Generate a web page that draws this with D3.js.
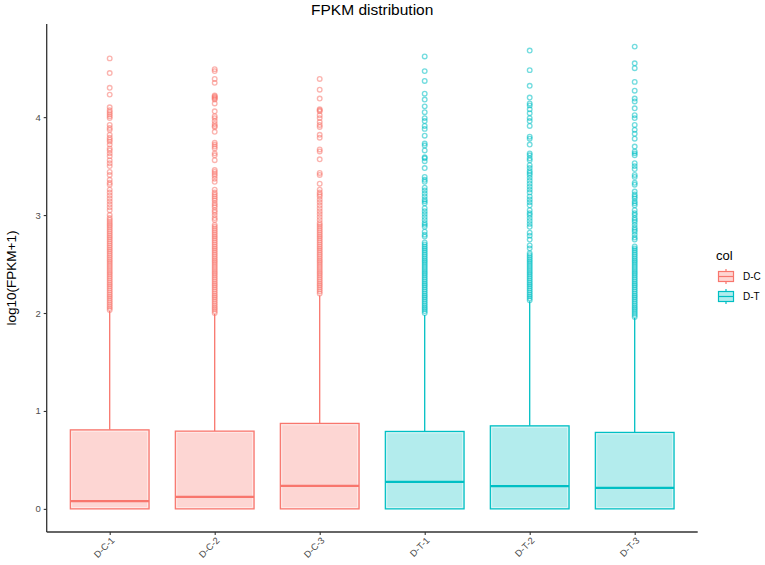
<!DOCTYPE html>
<html>
<head>
<meta charset="utf-8">
<script src="https://cdn.jsdelivr.net/npm/d3@7"></script>
<style>
  html, body { margin: 0; padding: 0; background: #fff; }
  svg { display: block; font-family: "Liberation Sans", Arial, Helvetica, sans-serif; }
</style>
</head>
<body>
<svg id="chart" width="765" height="565"></svg>
<script>
// ---------------- DATA ----------------
const categories = ["D-C-1", "D-C-2", "D-C-3", "D-T-1", "D-T-2", "D-T-3"];
const groups = ["D-C", "D-C", "D-C", "D-T", "D-T", "D-T"];
const legendGroups = ["D-C", "D-T"];
const q1Values = [0, 0, 0, 0, 0, 0];
const medianValues = [0.079, 0.123, 0.235, 0.276, 0.232, 0.215];
const q3Values = [0.807, 0.794, 0.873, 0.791, 0.848, 0.781];
const whiskerLowValues = [0, 0, 0, 0, 0, 0];
const whiskerHighValues = [2.02, 1.99, 2.18, 1.98, 2.12, 1.95];
const yTicks = [0, 1, 2, 3, 4];

const outliersDC1 = [4.60, 4.45, 4.30, 4.23, 4.10, 4.07, 4.05, 4.03, 4.01, 3.99, 3.92, 3.89, 3.87, 3.82, 3.79, 3.77, 3.75, 3.72, 3.68, 3.66, 3.63, 3.60, 3.56, 3.53, 3.50, 3.44, 3.41, 3.36, 3.33, 3.31, 3.26, 3.23, 3.20, 3.17, 3.14, 3.11, 3.08, 3.05, 3.00, 2.97, 2.95,
  2.93, 2.91, 2.89, 2.87, 2.85, 2.83, 2.81, 2.79, 2.77, 2.75, 2.73, 2.71, 2.69, 2.67, 2.65, 2.63, 2.61, 2.59, 2.57, 2.55, 2.53, 2.51, 2.49, 2.47, 2.45, 2.43, 2.41, 2.39, 2.37, 2.35, 2.33, 2.31, 2.29, 2.27, 2.25, 2.23, 2.21, 2.19, 2.17, 2.15, 2.13, 2.11, 2.09, 2.07, 2.05, 2.03];
const outliersDC2 = [4.49, 4.47, 4.39, 4.35, 4.22, 4.21, 4.20, 4.19, 4.18, 4.14, 4.06, 4.01, 3.99, 3.96, 3.93, 3.91, 3.90, 3.85, 3.74, 3.72, 3.70, 3.68, 3.63, 3.61, 3.56, 3.46, 3.44, 3.42, 3.40, 3.37, 3.34, 3.26, 3.23, 3.21, 3.19, 3.17, 3.15, 3.12, 3.10, 3.08, 3.05, 3.03, 3.00, 2.97, 2.95,
  2.90, 2.88, 2.86, 2.84, 2.82, 2.80, 2.78, 2.76, 2.74, 2.72, 2.70, 2.68, 2.66, 2.64, 2.62, 2.60, 2.58, 2.56, 2.54, 2.52, 2.50, 2.48, 2.46, 2.44, 2.42, 2.40, 2.38, 2.36, 2.34, 2.32, 2.30, 2.28, 2.26, 2.24, 2.22, 2.20, 2.18, 2.16, 2.14, 2.12, 2.10, 2.08, 2.06, 2.04, 2.02, 2.00];
const outliersDC3 = [4.39, 4.28, 4.19, 4.08, 4.07, 4.06, 4.02, 3.99, 3.95, 3.92, 3.90, 3.82, 3.79, 3.67, 3.65, 3.57, 3.43, 3.41, 3.32, 3.26, 3.23, 3.21, 3.19, 3.16, 3.13, 3.10, 3.07, 3.04, 3.01, 2.98, 2.95,
  2.92, 2.90, 2.88, 2.86, 2.84, 2.82, 2.80, 2.78, 2.76, 2.74, 2.72, 2.70, 2.68, 2.66, 2.64, 2.62, 2.60, 2.58, 2.56, 2.54, 2.52, 2.50, 2.48, 2.46, 2.44, 2.42, 2.40, 2.38, 2.36, 2.34, 2.32, 2.30, 2.28, 2.26, 2.24, 2.22, 2.20];
const outliersDT1 = [4.62, 4.47, 4.37, 4.24, 4.18, 4.11, 4.05, 3.99, 3.96, 3.91, 3.88, 3.81, 3.73, 3.71, 3.66, 3.59, 3.58, 3.55, 3.48, 3.39, 3.36, 3.34, 3.28, 3.25, 3.22, 3.19, 3.16, 3.14, 3.12, 3.07, 3.04, 3.01, 2.98, 2.95, 2.92, 2.90, 2.88, 2.83, 2.80, 2.78,
  2.72, 2.70, 2.68, 2.66, 2.64, 2.62, 2.60, 2.58, 2.56, 2.54, 2.52, 2.50, 2.48, 2.46, 2.44, 2.42, 2.40, 2.38, 2.36, 2.34, 2.32, 2.30, 2.28, 2.26, 2.24, 2.22, 2.20, 2.18, 2.16, 2.14, 2.12, 2.10, 2.08, 2.06, 2.04, 2.02, 2.00];
const outliersDT2 = [4.68, 4.48, 4.32, 4.20, 4.14, 4.12, 4.08, 4.04, 3.99, 3.96, 3.91, 3.80, 3.78, 3.72, 3.63, 3.61, 3.58, 3.56, 3.51, 3.48, 3.45, 3.43, 3.41, 3.38, 3.35, 3.32, 3.29, 3.26, 3.23, 3.19, 3.16, 3.13, 3.10, 3.05, 3.02, 3.00, 2.97, 2.94, 2.91, 2.88, 2.82, 2.79, 2.75, 2.69, 2.66,
  2.61, 2.59, 2.57, 2.55, 2.53, 2.51, 2.49, 2.47, 2.45, 2.43, 2.41, 2.39, 2.37, 2.35, 2.33, 2.31, 2.29, 2.27, 2.25, 2.23, 2.21, 2.19, 2.17, 2.15, 2.13];
const outliersDT3 = [4.72, 4.55, 4.50, 4.36, 4.27, 4.19, 4.16, 4.09, 4.02, 3.99, 3.92, 3.87, 3.83, 3.78, 3.70, 3.65, 3.63, 3.61, 3.53, 3.50, 3.47, 3.41, 3.39, 3.33, 3.31, 3.24, 3.21, 3.19, 3.17, 3.14, 3.12, 3.10, 3.05, 3.02, 3.00, 2.97, 2.95, 2.93, 2.90, 2.87, 2.85, 2.83, 2.80, 2.77, 2.75,
  2.68, 2.66, 2.64, 2.62, 2.60, 2.58, 2.56, 2.54, 2.52, 2.50, 2.48, 2.46, 2.44, 2.42, 2.40, 2.38, 2.36, 2.34, 2.32, 2.30, 2.28, 2.26, 2.24, 2.22, 2.20, 2.18, 2.16, 2.14, 2.12, 2.10, 2.08, 2.06, 2.04, 2.02, 2.00, 1.98, 1.96];
const outlierLists = [outliersDC1, outliersDC2, outliersDC3, outliersDT1, outliersDT2, outliersDT3];

// ---------------- LAYOUT ----------------
const svg = d3.select("#chart");
const panel = { left: 46.7, right: 697.7, top: 24, bottom: 532 };
const colors = d3.scaleOrdinal().domain(legendGroups).range(["#F8766D", "#00BFC4"]);
const fills = d3.scaleOrdinal().domain(legendGroups).range(["#FDD6D3", "#B3ECED"]);

const x = d3.scalePoint().domain(categories).range([panel.left, panel.right]).padding(0.6);
const step = x.step();
const boxW = step * 0.75;
const y = d3.scaleLinear().domain([-0.236, 4.951]).range([panel.bottom, panel.top]);

const rows = categories.map((c, i) => ({
  cat: c, group: groups[i], q1: q1Values[i], med: medianValues[i], q3: q3Values[i],
  lo: whiskerLowValues[i], hi: whiskerHighValues[i], out: outlierLists[i]
}));

const g = svg.append("g");

// whiskers
g.selectAll("line.whisker").data(rows).join("line")
  .attr("x1", d => x(d.cat)).attr("x2", d => x(d.cat))
  .attr("y1", d => y(d.q3)).attr("y2", d => y(d.hi))
  .attr("stroke", d => colors(d.group)).attr("stroke-width", 1.3);

// outliers
rows.forEach(d => {
  g.append("g").selectAll("circle").data(d.out).join("circle")
    .attr("cx", x(d.cat)).attr("cy", v => y(v)).attr("r", 2.3)
    .attr("fill", "none").attr("stroke", colors(d.group))
    .attr("stroke-width", 1.35).attr("stroke-opacity", 0.55);
});

// boxes
g.selectAll("rect.box").data(rows).join("rect")
  .attr("x", d => x(d.cat) - boxW / 2).attr("width", boxW)
  .attr("y", d => y(d.q3)).attr("height", d => y(d.q1) - y(d.q3))
  .attr("fill", d => fills(d.group)).attr("stroke", d => colors(d.group)).attr("stroke-width", 1.25);
// inner light edge
g.selectAll("rect.inner").data(rows).join("rect")
  .attr("x", d => x(d.cat) - boxW / 2 + 1.5).attr("width", boxW - 3)
  .attr("y", d => y(d.q3) + 1.5).attr("height", d => y(d.q1) - y(d.q3) - 3)
  .attr("fill", "none").attr("stroke", "#fff").attr("stroke-opacity", 0.55).attr("stroke-width", 0.8);

// medians
g.selectAll("line.median").data(rows).join("line")
  .attr("x1", d => x(d.cat) - boxW / 2).attr("x2", d => x(d.cat) + boxW / 2)
  .attr("y1", d => y(d.med)).attr("y2", d => y(d.med))
  .attr("stroke", d => colors(d.group)).attr("stroke-width", 2.4);

// axes
const axisColor = "#333333";
const yAxis = svg.append("g").attr("transform", `translate(${panel.left},0)`)
  .call(d3.axisLeft(y).tickValues(yTicks).tickSize(3).tickPadding(3).tickFormat(d3.format("d")));
yAxis.select(".domain").attr("d", `M0,${panel.top}V${panel.bottom}`).attr("stroke", axisColor).attr("stroke-width", 1.3);
yAxis.selectAll(".tick line").attr("stroke", axisColor).attr("stroke-width", 1.1);
yAxis.selectAll(".tick text").attr("fill", "#4D4D4D").style("font-size", "9.5px").style("font-family", "Liberation Sans, Arial, sans-serif");

const xAxis = svg.append("g").attr("transform", `translate(0,${panel.bottom})`)
  .call(d3.axisBottom(x).tickSize(3).tickPadding(3));
xAxis.select(".domain").attr("d", `M${panel.left},0H${panel.right}`).attr("stroke", axisColor).attr("stroke-width", 1.3);
xAxis.selectAll(".tick line").attr("stroke", axisColor).attr("stroke-width", 1.1);
xAxis.selectAll(".tick text")
  .attr("fill", "#4D4D4D").style("font-size", "9.3px").style("font-family", "Liberation Sans, Arial, sans-serif")
  .attr("text-anchor", "end").attr("dy", null).attr("y", 0)
  .attr("transform", "translate(5,9) rotate(-45)");

// title
svg.append("text").attr("x", (panel.left + panel.right) / 2).attr("y", 15)
  .attr("text-anchor", "middle").style("font-size", "15.5px").attr("fill", "#000").text("FPKM distribution");

// y title
svg.append("text").attr("transform", `translate(16,${(panel.top + panel.bottom) / 2}) rotate(-90)`)
  .attr("text-anchor", "middle").style("font-size", "13.5px").attr("fill", "#000").text("log10(FPKM+1)");

// legend
const lg = svg.append("g").attr("transform", "translate(716,0)");
lg.append("text").attr("x", 0).attr("y", 260).style("font-size", "13px").attr("fill", "#000").text("col");
legendGroups.forEach((grp, i) => {
  const k = lg.append("g").attr("transform", `translate(1,${268 + i * 20})`);
  const kw = 18, kh = 17;
  k.append("line").attr("x1", kw / 2).attr("x2", kw / 2).attr("y1", 1).attr("y2", kh - 1)
    .attr("stroke", colors(grp)).attr("stroke-width", 1.2);
  k.append("rect").attr("x", 1.5).attr("y", 3.5).attr("width", kw - 3).attr("height", kh - 7)
    .attr("fill", fills(grp)).attr("stroke", colors(grp)).attr("stroke-width", 1.2);
  k.append("line").attr("x1", 1.5).attr("x2", kw - 1.5).attr("y1", kh / 2).attr("y2", kh / 2)
    .attr("stroke", colors(grp)).attr("stroke-width", 1.2);
  lg.append("text").attr("x", 27).attr("y", 268 + i * 20 + 12.3).style("font-size", "10px").attr("fill", "#000").text(grp);
});
</script>
</body>
</html>
